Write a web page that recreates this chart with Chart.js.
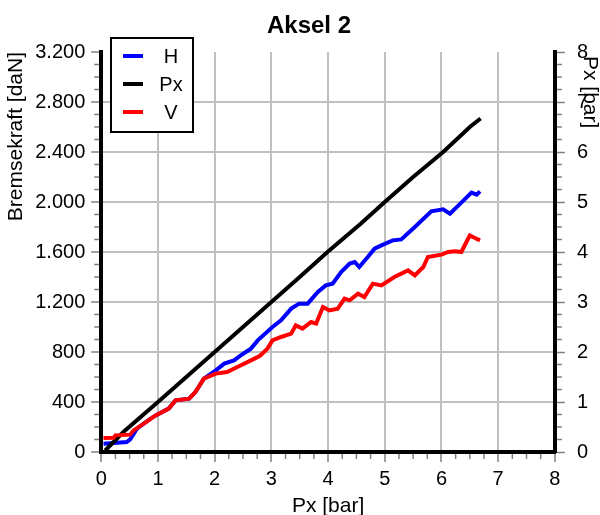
<!DOCTYPE html>
<html>
<head>
<meta charset="utf-8">
<title>Aksel 2</title>
<script src="https://cdn.jsdelivr.net/npm/chart.js@4.4.1/dist/chart.umd.min.js"></script>
<style>
    body { margin: 0; background: #fff; }
    canvas { display: block; }
</style>
</head>
<body>
<canvas id="chartCanvas" width="600" height="515"></canvas>
<script>
// H - bremsekraft [daN] mod Px [bar]
const hX = [0.04, 0.45, 0.51, 0.63, 0.87, 0.96, 1.19, 1.31, 1.55, 1.66, 1.81, 2.02, 2.17, 2.34, 2.46, 2.55, 2.64, 2.76, 3.02, 3.17, 3.35, 3.49, 3.64, 3.82, 3.96, 4.08, 4.23, 4.38, 4.47, 4.55, 4.70, 4.82, 4.94, 5.14, 5.29, 5.53, 5.82, 6.03, 6.15, 6.30, 6.53, 6.62, 6.68];
const hY = [66, 80, 101, 187, 267, 293, 347, 413, 427, 480, 587, 653, 707, 733, 773, 800, 827, 893, 1000, 1053, 1147, 1187, 1187, 1280, 1333, 1347, 1440, 1507, 1520, 1480, 1560, 1627, 1653, 1693, 1701, 1800, 1925, 1941, 1907, 1973, 2075, 2059, 2085];

// V - bremsekraft [daN] mod Px [bar]
const vX = [0.04, 0.22, 0.25, 0.51, 0.57, 0.75, 0.96, 1.19, 1.31, 1.55, 1.66, 1.81, 2.02, 2.22, 2.40, 2.64, 2.80, 2.93, 3.02, 3.17, 3.35, 3.43, 3.55, 3.70, 3.79, 3.91, 4.02, 4.17, 4.29, 4.38, 4.53, 4.64, 4.79, 4.94, 5.17, 5.41, 5.53, 5.68, 5.76, 6.00, 6.12, 6.24, 6.35, 6.44, 6.50, 6.59, 6.68];
const vY = [112, 114, 133, 139, 173, 227, 293, 347, 413, 427, 480, 587, 627, 640, 680, 733, 770, 827, 893, 920, 947, 1013, 987, 1040, 1027, 1160, 1133, 1147, 1227, 1213, 1267, 1240, 1347, 1333, 1400, 1453, 1413, 1480, 1560, 1579, 1600, 1605, 1600, 1680, 1733, 1712, 1693];

// Px [bar] (hoejre akse)
const pxX = [0.07, 0.39, 1.0, 1.5, 2.0, 2.5, 3.0, 3.5, 3.99, 4.58, 5.0, 5.5, 6.03, 6.5, 6.69];
const pxY = [0.03, 0.40, 1.0, 1.5, 2.0, 2.5, 3.0, 3.5, 4.0, 4.57, 5.0, 5.5, 6.0, 6.5, 6.67];

const seriesNames = ['H', 'Px', 'V'];
const seriesColors = ['#0000ff', '#000000', '#ff0000'];

function toPoints(xs, ys) {
    return xs.map((x, i) => ({ x: x, y: ys[i] }));
}

// 3200 -> "3.200"
function fmtDaN(value) {
    return String(value).replace(/\B(?=(\d{3})+(?!\d))/g, '.');
}

Chart.defaults.font.family = "'Liberation Sans', Arial, sans-serif";
Chart.defaults.color = '#000';

// Titel over grafen + titel paa hoejre akse (overlapper tallene som i originalen)
const chartTitle = {
    id: 'chartTitle',
    afterDraw(chart) {
        const ctx = chart.ctx;
        ctx.save();
        ctx.font = "bold 24px 'Liberation Sans', Arial, sans-serif";
        ctx.fillStyle = '#000';
        ctx.textAlign = 'center';
        ctx.textBaseline = 'alphabetic';
        ctx.fillText('Aksel 2', 309, 33);

        ctx.font = "21px 'Liberation Sans', Arial, sans-serif";
        ctx.translate(590, chart.chartArea.top + 4);
        ctx.rotate(Math.PI / 2);
        ctx.textAlign = 'left';
        ctx.textBaseline = 'middle';
        ctx.fillText('Px [bar]', 0, 0);
        ctx.restore();
    }
};

// Smaa mellem-streger paa akserne
const minorTicks = {
    id: 'minorTicks',
    afterDraw(chart) {
        const { ctx, chartArea, scales } = chart;
        ctx.save();
        ctx.strokeStyle = '#808080';
        ctx.lineWidth = 1.5;
        ctx.beginPath();
        for (let i = 1; i < 32; i++) {
            if (i % 4 === 0) continue;
            const px = scales.x.getPixelForValue(i / 4);
            ctx.moveTo(px, chartArea.bottom + 2);
            ctx.lineTo(px, chartArea.bottom + 7);

            const py = scales.y.getPixelForValue(i * 100);
            ctx.moveTo(chartArea.left - 2, py);
            ctx.lineTo(chartArea.left - 7, py);

            const py2 = scales.y2.getPixelForValue(i / 4);
            ctx.moveTo(chartArea.right + 2, py2);
            ctx.lineTo(chartArea.right + 7, py2);
        }
        ctx.stroke();
        ctx.restore();
    }
};

// Forklaring i boks oeverst til venstre
const legendBox = {
    id: 'legendBox',
    afterDraw(chart) {
        const ctx = chart.ctx;
        const left = 111, top = 38, w = 82, h = 94;
        ctx.save();
        ctx.fillStyle = '#fff';
        ctx.fillRect(left, top, w, h);
        ctx.strokeStyle = '#000';
        ctx.lineWidth = 2;
        ctx.strokeRect(left, top, w, h);
        ctx.font = "20px 'Liberation Sans', Arial, sans-serif";
        ctx.textAlign = 'center';
        ctx.textBaseline = 'middle';
        chart.data.datasets.forEach((ds, i) => {
            const y = 56 + i * 28;
            ctx.strokeStyle = ds.borderColor;
            ctx.lineWidth = 4;
            ctx.beginPath();
            ctx.moveTo(123, y);
            ctx.lineTo(143, y);
            ctx.stroke();
            ctx.fillStyle = '#000';
            ctx.fillText(ds.label, 171, y + 1);
        });
        ctx.restore();
    }
};

const ctx = document.getElementById('chartCanvas').getContext('2d');

let chart = new Chart(ctx, {
    type: 'scatter',
    data: {
        datasets: [
            {
                label: seriesNames[0],
                data: toPoints(hX, hY),
                borderColor: seriesColors[0],
                yAxisID: 'y',
                order: 2
            },
            {
                label: seriesNames[1],
                data: toPoints(pxX, pxY),
                borderColor: seriesColors[1],
                yAxisID: 'y2',
                order: 1
            },
            {
                label: seriesNames[2],
                data: toPoints(vX, vY),
                borderColor: seriesColors[2],
                yAxisID: 'y',
                order: 0
            }
        ].map(ds => Object.assign(ds, {
            showLine: true,
            borderWidth: 4,
            pointRadius: 0,
            tension: 0,
            fill: false
        }))
    },
    options: {
        responsive: false,
        animation: false,
        layout: { padding: { top: 52, left: 0, right: 0, bottom: -2 } },
        plugins: {
            legend: { display: false },
            title: { display: false },
            tooltip: { enabled: false }
        },
        scales: {
            x: {
                type: 'linear',
                min: 0,
                max: 8,
                ticks: { stepSize: 1, font: { size: 20 }, padding: 5, maxRotation: 0 },
                grid: { color: '#c0c0c0', lineWidth: 2, tickLength: 10, tickColor: '#808080', tickWidth: 1.5 },
                border: { color: '#000', width: 4 },
                title: { display: true, text: 'Px [bar]', font: { size: 21, lineHeight: 1 }, padding: { top: 0, bottom: 0 } }
            },
            y: {
                position: 'left',
                min: 0,
                max: 3200,
                ticks: { stepSize: 400, font: { size: 20 }, padding: 6, callback: v => fmtDaN(v) },
                grid: {
                    color: c => (c.tick && c.tick.value === 3200) ? 'rgba(0,0,0,0)' : '#c0c0c0',
                    lineWidth: 2,
                    tickLength: 10,
                    tickColor: '#808080',
                    tickWidth: 1.5
                },
                border: { color: '#000', width: 4 },
                title: { display: true, text: 'Bremsekraft [daN]', align: 'end', font: { size: 21 }, padding: { top: 4, bottom: 0 } }
            },
            y2: {
                position: 'right',
                min: 0,
                max: 8,
                ticks: { stepSize: 1, font: { size: 20 }, padding: 12 },
                grid: { drawOnChartArea: false, tickLength: 10, tickColor: '#808080', tickWidth: 1.5 },
                border: { color: '#000', width: 4 },
                title: { display: false }
            }
        }
    },
    plugins: [chartTitle, minorTicks, legendBox]
});
</script>
</body>
</html>
